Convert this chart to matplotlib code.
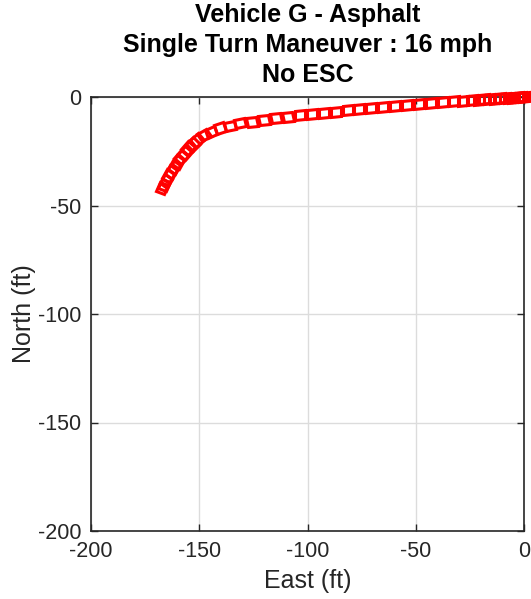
import numpy as np
import matplotlib
matplotlib.use("Agg")
import matplotlib.pyplot as plt
from matplotlib.markers import MarkerStyle
from matplotlib.transforms import Affine2D

plt.rcParams['font.family'] = ['Liberation Sans', 'DejaVu Sans']
plt.rcParams['axes.unicode_minus'] = False

east = [0, -1.5, -3, -5, -7, -9, -11, -13.5, -16, -18.5, -21, -24, -28, -32.5,
        -37.5, -43, -48.5, -54, -59.5, -65, -70.5, -76, -81.5, -87, -92.5, -98,
        -103.5, -109, -114.5, -120, -125.5, -131, -136, -140.5, -144.5, -148,
        -151, -153, -155, -156.8, -158.5, -160, -161.5, -163, -164.3, -165.5,
        -166.5, -167.2]
north = [0, -0.1, -0.2, -0.3, -0.4, -0.5, -0.6, -0.8, -0.9, -1.0, -1.2, -1.4,
         -1.7, -2.0, -2.3, -2.7, -3.0, -3.5, -4.0, -4.5, -5.0, -5.6, -6.1, -6.7,
         -7.2, -7.8, -8.4, -9.0, -9.7, -10.5, -11.3, -12.2, -13.2, -14.5, -16.0,
         -17.7, -19.6, -21.6, -23.6, -25.7, -27.8, -30.0, -32.2, -34.4, -36.5,
         -38.6, -40.5, -42.0]

xticks = [-200, -150, -100, -50, 0]
yticks = [-200, -150, -100, -50, 0]
title_lines = ["Vehicle G - Asphalt", "Single Turn Maneuver : 16 mph", "No ESC"]

fig = plt.figure(figsize=(5.31, 5.99), dpi=100)
ax = fig.add_axes([91/531, 68/599, 433/531, 434/599])

ex = np.array(east)
ny = np.array(north)
heading = np.degrees(np.arctan2(np.gradient(ny), np.gradient(ex)))
for xi, yi, h in zip(ex, ny, heading):
    m = MarkerStyle('s', transform=Affine2D().scale(1.1, 0.95).rotate_deg(h))
    ax.plot([xi], [yi], linestyle='none', marker=m, markersize=6.6,
            markerfacecolor='none', markeredgecolor='red', markeredgewidth=2.2,
            zorder=3, clip_on=False)

ax.set_xlim(-200, 0)
ax.set_ylim(-200, 0)
ax.set_xticks(xticks)
ax.set_yticks(yticks)
ax.set_xticklabels([str(t) for t in xticks])
ax.set_yticklabels([str(t) for t in yticks])
ax.grid(True, color='#dcdcdc', linewidth=1.0)
ax.set_axisbelow(True)
tc = '#262626'
ax.tick_params(direction='in', length=5, width=1, colors=tc, labelsize=15.5,
               top=True, right=True, pad=7)
for s in ax.spines.values():
    s.set_color(tc)
    s.set_linewidth(1.2)
ax.set_xlabel('East (ft)', fontsize=18, color=tc, labelpad=5)
ax.set_ylabel('North (ft)', fontsize=18, color=tc, labelpad=1)
ax.set_title("\n".join(title_lines), fontsize=18, fontweight='bold',
             linespacing=1.32, pad=11)

fig.savefig('out.png', dpi=100)
